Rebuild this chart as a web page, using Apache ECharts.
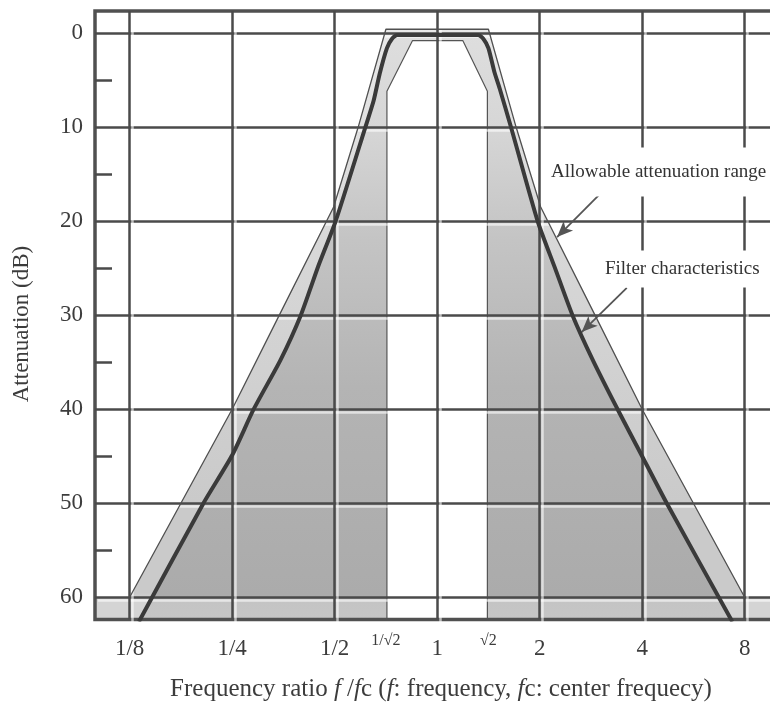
<!DOCTYPE html>
<html>
<head>
<meta charset="utf-8">
<script src="https://cdn.jsdelivr.net/npm/echarts@6/dist/echarts.min.js"></script>
<style>
html,body{margin:0;padding:0;background:#fff;}
#chart{width:770px;height:705px;}
</style>
</head>
<body>
<div id="chart"></div>
<script>
// x values are octaves from the centre frequency: log2(f / fc)
const xTickOctaves = [-3, -2, -1, 0, 1, 2, 3];
const xTickLabels = ['1/8', '1/4', '1/2', '1', '2', '4', '8'];
const xHalfOctaves = [-0.5, 0.5];
const xHalfLabels = ['1/\u221A2', '\u221A2'];
const yTicks = [0, 10, 20, 30, 40, 50, 60];
const yMinorTicks = [5, 15, 25, 35, 45, 55];

// outer limit of the allowable attenuation range
const outerOct = [-3.00, -2.00, -1.54, -1.01, -0.77, -0.50, 0.50, 0.77, 1.01, 1.54, 2.00, 3.00];
const outerDb  = [60, 40, 30, 18.5, 10, -0.4, -0.4, 10, 18.5, 30, 40, 60];

// inner limit (pass window)
const innerOct = [-0.49, -0.49, -0.24, 0.25, 0.49, 0.49];
const innerDb  = [63, 6.2, 0.8, 0.8, 6.2, 63];

// filter characteristics
const filterOct = [-2.91, -2.28, -2.00, -1.79, -1.53, -1.33, -1.16, -0.99, -0.70, -0.62, -0.56, -0.49, -0.44, -0.39, 0,
                   0.40, 0.45, 0.50, 0.56, 0.61, 0.72, 0.98, 1.15, 1.32, 1.52, 1.76, 2.00, 2.24, 2.88];
const filterDb  = [62.6, 50, 44.9, 40, 34.8, 30, 24.8, 20, 10, 7.2, 4.3, 1.6, 0.6, 0.2, 0.2,
                   0.2, 0.6, 1.6, 4.2, 5.9, 10, 20, 25, 30, 34.8, 40, 45, 50, 62.6];

const X_MIN = -3.338, X_MAX = 3.296, Y_MIN = -2.34, Y_MAX = 62.36;

const pairs = (xs, ys) => xs.map((x, i) => [x, ys[i]]);
const outerData = pairs(outerOct, outerDb);
const outerFill = [[X_MIN, 60]].concat(outerData, [[X_MAX, 60]]);
const innerData = pairs(innerOct, innerDb);
const filterData = pairs(filterOct, filterDb);

const FONT = '"Liberation Serif", "Times New Roman", serif';
const TXT = '#3c3c3c';
const GRIDC = '#4a4a4a';

const chart = echarts.init(document.getElementById('chart'), null, {renderer: 'canvas'});

const halo = {shadowColor: 'rgba(255,255,255,0.6)', shadowBlur: 0, shadowOffsetX: 3, shadowOffsetY: 3};

const option = {
  animation: false,
  backgroundColor: '#ffffff',
  grid: {
    left: 95, top: 11, width: 680, height: 608.5,
    containLabel: false, outerBoundsMode: 'none',
    show: true, borderColor: '#505050', borderWidth: 3.5, backgroundColor: 'transparent', z: 5
  },
  xAxis: [
    {
      type: 'value', min: X_MIN, max: X_MAX, position: 'bottom', z: 5,
      axisLine: {show: false, onZero: false},
      axisTick: {show: false, customValues: xTickOctaves},
      axisLabel: {
        customValues: xTickOctaves, margin: 18,
        fontFamily: FONT, fontSize: 23, color: TXT,
        formatter: v => xTickLabels[xTickOctaves.indexOf(v)] || ''
      },
      splitLine: {show: true, lineStyle: Object.assign({color: GRIDC, width: 2.5}, halo)}
    },
    {
      type: 'value', min: X_MIN, max: X_MAX, position: 'bottom', z: 5,
      axisLine: {show: false, onZero: false},
      axisTick: {show: false, customValues: xHalfOctaves},
      axisLabel: {
        customValues: xHalfOctaves, margin: 13,
        fontFamily: FONT, fontSize: 16, color: TXT,
        formatter: v => xHalfLabels[xHalfOctaves.indexOf(v)] || ''
      },
      splitLine: {show: false}
    }
  ],
  yAxis: [
    {
      type: 'value', inverse: true, min: Y_MIN, max: Y_MAX, position: 'left', z: 5,
      axisLine: {show: false, onZero: false},
      axisTick: {show: false, customValues: yTicks},
      axisLabel: {
        customValues: yTicks, margin: 12,
        fontFamily: FONT, fontSize: 23, color: TXT
      },
      splitLine: {show: true, lineStyle: Object.assign({color: GRIDC, width: 2.5}, halo)}
    },
    {
      type: 'value', inverse: true, min: Y_MIN, max: Y_MAX, position: 'left', z: 5,
      axisLine: {show: false, onZero: false},
      axisTick: {show: true, inside: true, length: 17, customValues: yMinorTicks,
                 lineStyle: {color: GRIDC, width: 2.5}},
      axisLabel: {show: false},
      splitLine: {show: false}
    }
  ],
  series: [
    {
      name: 'allowable-fill', type: 'line', xAxisIndex: 0, yAxisIndex: 0, z: 1,
      data: outerFill, symbol: 'none', silent: true,
      lineStyle: {width: 0},
      areaStyle: {
        origin: 'end', opacity: 1,
        color: new echarts.graphic.LinearGradient(0, 0, 0, 1, [
          {offset: 0, color: '#e8e8e8'},
          {offset: 0.35, color: '#d8d8d8'},
          {offset: 0.8, color: '#cacaca'},
          {offset: 0.955, color: '#cacaca'},
          {offset: 0.965, color: '#d4d4d4'},
          {offset: 1, color: '#d4d4d4'}
        ])
      }
    },
    {
      name: 'filter-fill', type: 'line', xAxisIndex: 0, yAxisIndex: 0, z: 1,
      data: filterData, symbol: 'none', silent: true, smooth: 0.2,
      lineStyle: {width: 0},
      areaStyle: {
        origin: 'end', opacity: 1,
        color: new echarts.graphic.LinearGradient(0, 0, 0, 1, [
          {offset: 0, color: '#dedede'},
          {offset: 0.16, color: '#d6d6d6'},
          {offset: 0.35, color: '#c4c4c4'},
          {offset: 0.6, color: '#b4b4b4'},
          {offset: 0.955, color: '#ababab'},
          {offset: 0.965, color: '#c4c4c4'},
          {offset: 1, color: '#c6c6c6'}
        ])
      }
    },
    {
      name: 'window', type: 'line', xAxisIndex: 0, yAxisIndex: 0, z: 1,
      data: innerData, symbol: 'none', silent: true,
      lineStyle: {width: 1.2, color: '#555'},
      areaStyle: {origin: 'end', color: '#ffffff', opacity: 1}
    },
    {
      name: 'Allowable attenuation range', type: 'line', xAxisIndex: 0, yAxisIndex: 0, z: 6,
      data: outerData, symbol: 'none', silent: true,
      lineStyle: {width: 1.3, color: '#505050'},
      markLine: {
        silent: true, symbol: ['none', 'arrow'], symbolSize: [10, 16],
        lineStyle: {color: '#555', width: 1.8, type: 'solid'},
        label: {show: false},
        emphasis: {disabled: true},
        data: [
          [{coord: [1.58, 17.2]}, {coord: [1.17, 21.7]}],
          [{coord: [1.85, 27.1]}, {coord: [1.41, 31.8]}]
        ]
      }
    },
    {
      name: 'Filter characteristics', type: 'line', xAxisIndex: 0, yAxisIndex: 0, z: 7,
      data: filterData, symbol: 'none', silent: true, smooth: 0.2,
      lineStyle: {width: 4, color: '#3a3a3a'}
    }
  ],
  graphic: [
    {
      type: 'text', x: 22, y: 324, rotation: Math.PI / 2, z: 100,
      style: {text: 'Attenuation (dB)', fontFamily: FONT, fontSize: 23, fill: TXT,
              align: 'center', verticalAlign: 'middle'}
    },
    {
      type: 'text', x: 441, y: 689, z: 100,
      style: {
        text: 'Frequency ratio {i|f} /{i|f}c ({i|f}: frequency, {i|f}c: center frequecy)',
        fontFamily: FONT, fontSize: 25, fill: TXT, align: 'center', verticalAlign: 'middle',
        rich: {i: {fontFamily: FONT, fontSize: 25, fontStyle: 'italic', fill: TXT}}
      }
    },
    {
      type: 'text', x: 548, y: 172, z: 100,
      style: {text: 'Allowable attenuation range', fontFamily: FONT, fontSize: 19, fill: '#333',
              align: 'left', verticalAlign: 'middle', backgroundColor: '#ffffff', padding: [15, 20, 15, 3]}
    },
    {
      type: 'text', x: 601, y: 269, z: 100,
      style: {text: 'Filter characteristics', fontFamily: FONT, fontSize: 19, fill: '#333',
              align: 'left', verticalAlign: 'middle', backgroundColor: '#ffffff', padding: [9, 20, 9, 4]}
    }
  ]
};

chart.setOption(option);
</script>
</body>
</html>
